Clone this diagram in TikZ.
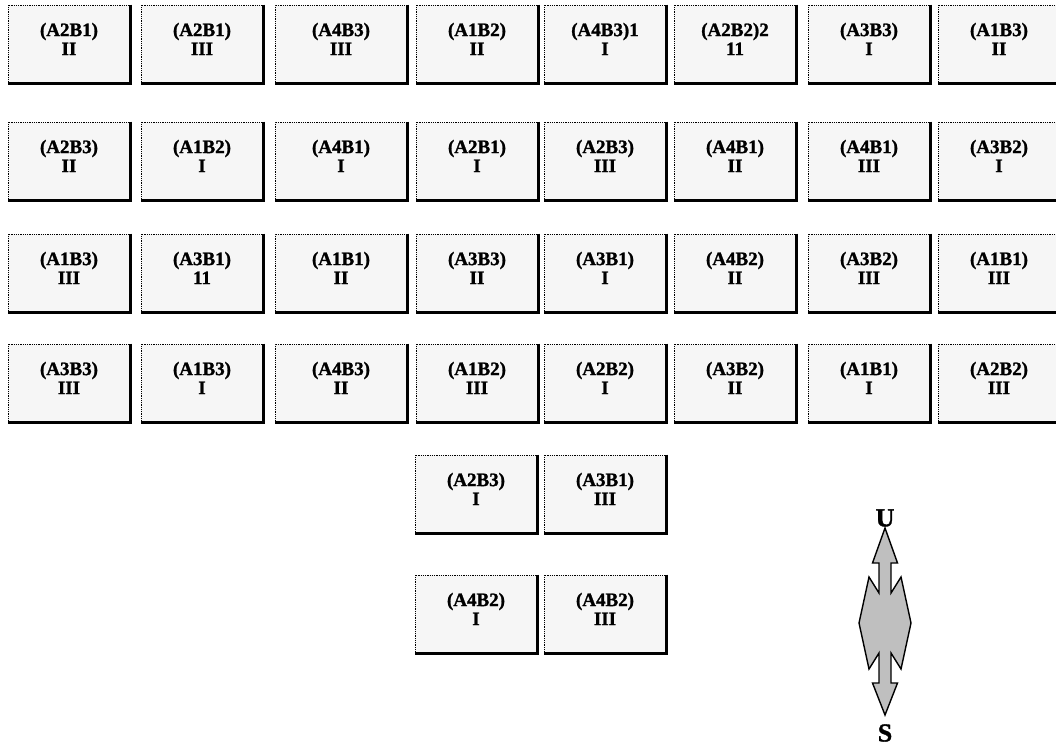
\documentclass[tikz,border=0pt]{standalone}
\usepackage{fontspec}
\setmainfont{Liberation Serif}
\newfontfamily\heavyserif{Liberation Serif}[BoldFeatures={FakeBold=1.3}]
\usetikzlibrary{positioning,calc}

\begin{document}
\begin{tikzpicture}[x=1pt, y=-1pt,
    cell/.style={draw=black, densely dotted, line width=0.8pt, fill=gray!7,
      minimum width=122pt, minimum height=78pt, inner sep=0pt, align=center,
      font=\heavyserif\fontsize{19}{19}\selectfont\bfseries},
    rim/.style={solid, line width=2.4pt, black},
    pole/.style={font=\heavyserif\fontsize{26}{26}\selectfont\bfseries, inner sep=0pt}]
  \useasboundingbox (0,0) rectangle (1056,745);

  % row 1
  \foreach \i/\x/\p/\q in {1/69/(A2B1)/II, 2/202/(A2B1)/III, 3/341/(A4B3)/III,
      4/477/(A1B2)/II, 5/605/(A4B3)1/I, 6/735/(A2B2)2/11, 7/869/(A3B3)/I,
      8/999/(A1B3)/II}
    {\node[cell, minimum width={(\i==3)*10+122}] (r1c\i) at (\x,44) {\p\\\q\\[-9pt]\mbox{}};
     \draw[rim] (r1c\i.north east) -- (r1c\i.south east) -- (r1c\i.south west);}
  % row 2
  \foreach \i/\x/\p/\q in {1/69/(A2B3)/II, 2/202/(A1B2)/I, 3/341/(A4B1)/I,
      4/477/(A2B1)/I, 5/605/(A2B3)/III, 6/735/(A4B1)/II, 7/869/(A4B1)/III,
      8/999/(A3B2)/I}
    {\node[cell, minimum width={(\i==3)*10+122}] (r2c\i) at (\x,161) {\p\\\q\\[-9pt]\mbox{}};
     \draw[rim] (r2c\i.north east) -- (r2c\i.south east) -- (r2c\i.south west);}
  % row 3
  \foreach \i/\x/\p/\q in {1/69/(A1B3)/III, 2/202/(A3B1)/11, 3/341/(A1B1)/II,
      4/477/(A3B3)/II, 5/605/(A3B1)/I, 6/735/(A4B2)/II, 7/869/(A3B2)/III,
      8/999/(A1B1)/III}
    {\node[cell, minimum width={(\i==3)*10+122}] (r3c\i) at (\x,273) {\p\\\q\\[-9pt]\mbox{}};
     \draw[rim] (r3c\i.north east) -- (r3c\i.south east) -- (r3c\i.south west);}
  % row 4
  \foreach \i/\x/\p/\q in {1/69/(A3B3)/III, 2/202/(A1B3)/I, 3/341/(A4B3)/II,
      4/477/(A1B2)/III, 5/605/(A2B2)/I, 6/735/(A3B2)/II, 7/869/(A1B1)/I,
      8/999/(A2B2)/III}
    {\node[cell, minimum width={(\i==3)*10+122}] (r4c\i) at (\x,383) {\p\\\q\\[-9pt]\mbox{}};
     \draw[rim] (r4c\i.north east) -- (r4c\i.south east) -- (r4c\i.south west);}
  % extra block
  \foreach \n/\x/\y/\p/\q in {b1/476/494/(A2B3)/I, b2/605/494/(A3B1)/III,
      b3/476/614/(A4B2)/I, b4/605/614/(A4B2)/III}
    {\node[cell] (\n) at (\x,\y) {\p\\\q\\[-9pt]\mbox{}};
     \draw[rim] (\n.north east) -- (\n.south east) -- (\n.south west);}

  % compass
  \node[pole] (up) at (885,518) {U};
  \node[pole] (dn) at (885,733) {S};
  \coordinate (mid) at (885,623);
  \draw[line width=1.4pt, fill=gray!50, shift={(mid)}]
    (0,-95) -- (12.5,-60) -- (6,-60) -- (6,-30) -- (16,-46) -- (26,0)
    -- (16,46) -- (6,30) -- (6,60) -- (12.5,60) -- (0,92)
    -- (-12.5,60) -- (-6,60) -- (-6,30) -- (-16,46) -- (-26,0)
    -- (-16,-46) -- (-6,-30) -- (-6,-60) -- (-12.5,-60) -- cycle;
\end{tikzpicture}
\end{document}
